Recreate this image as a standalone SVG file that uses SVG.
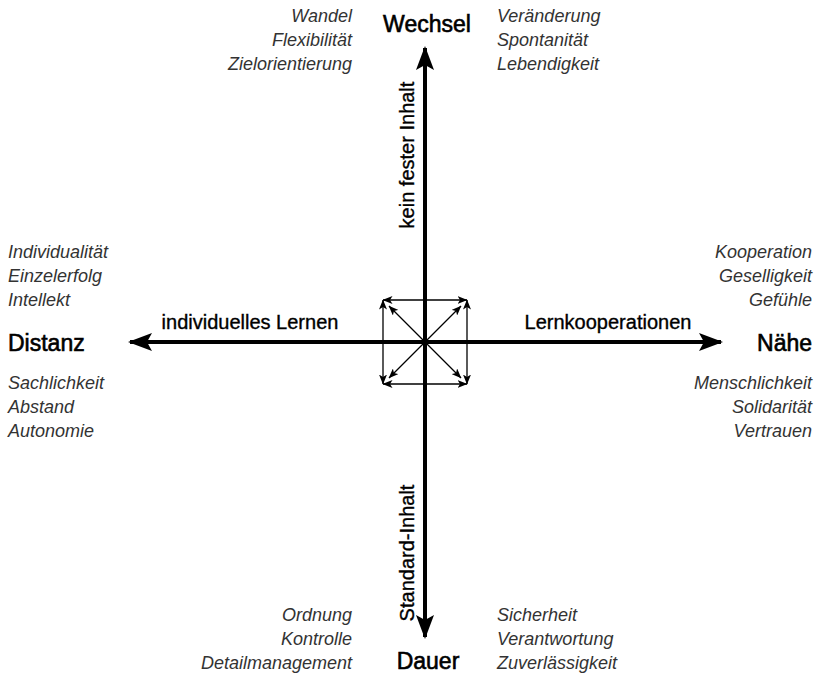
<svg xmlns="http://www.w3.org/2000/svg" width="815" height="676" viewBox="0 0 815 676">
  <style>
    .pole { font-family: "Liberation Sans", Arial, sans-serif; font-size: 23px; fill: #000; stroke: #000; stroke-width: 0.6; }
    .axis-label { font-family: "Liberation Sans", Arial, sans-serif; font-size: 20px; fill: #000; stroke: #000; stroke-width: 0.35; }
    .quality { font-family: "Liberation Sans", Arial, sans-serif; font-size: 18px; font-style: italic; fill: #333; }
    .axis { stroke: #000; stroke-width: 4; fill: none; }
    .thin { stroke: #000; stroke-width: 1.3; fill: none; }
  </style>
  <defs>
    <!-- big concave head for the two main axes -->
    <marker id="head-big" viewBox="0 0 24 18" refX="22" refY="9" markerWidth="24" markerHeight="18" markerUnits="userSpaceOnUse" orient="auto-start-reverse">
      <path d="M0,0 L24,9 L0,18 L5,9 Z" fill="#000"/>
    </marker>
    <!-- small head for the arrows in the centre square -->
    <marker id="head-small" viewBox="0 0 10 8" refX="9.5" refY="4" markerWidth="10" markerHeight="8" markerUnits="userSpaceOnUse" orient="auto-start-reverse">
      <path d="M0,0 L10,4 L0,8 L2.5,4 Z" fill="#000"/>
    </marker>
  </defs>

  <g id="connectors">
    <!-- main axes -->
    <line class="axis" x1="425" y1="637" x2="425" y2="48" marker-start="url(#head-big)" marker-end="url(#head-big)"/>
    <line class="axis" x1="130" y1="342" x2="721" y2="342" marker-start="url(#head-big)" marker-end="url(#head-big)"/>
    <!-- square of double-headed arrows -->
    <line class="thin" x1="383" y1="300" x2="467" y2="300" marker-start="url(#head-small)" marker-end="url(#head-small)"/>
    <line class="thin" x1="383" y1="384" x2="467" y2="384" marker-start="url(#head-small)" marker-end="url(#head-small)"/>
    <line class="thin" x1="383" y1="300" x2="383" y2="384" marker-start="url(#head-small)" marker-end="url(#head-small)"/>
    <line class="thin" x1="467" y1="300" x2="467" y2="384" marker-start="url(#head-small)" marker-end="url(#head-small)"/>
    <!-- diagonals from the centre -->
    <line class="thin" x1="425" y1="342" x2="389" y2="306" marker-end="url(#head-small)"/>
    <line class="thin" x1="425" y1="342" x2="461" y2="306" marker-end="url(#head-small)"/>
    <line class="thin" x1="425" y1="342" x2="389" y2="378" marker-end="url(#head-small)"/>
    <line class="thin" x1="425" y1="342" x2="461" y2="378" marker-end="url(#head-small)"/>
  </g>

  <g id="axis-labels">
    <text class="axis-label" x="250" y="329" text-anchor="middle">individuelles Lernen</text>
    <text class="axis-label" x="608" y="329" text-anchor="middle">Lernkooperationen</text>
    <text class="axis-label" transform="translate(414,155) rotate(-90)" text-anchor="middle">kein fester Inhalt</text>
    <text class="axis-label" transform="translate(414,553) rotate(-90)" text-anchor="middle">Standard-Inhalt</text>
  </g>

  <g id="node-wechsel">
    <text class="pole" x="427" y="32" text-anchor="middle">Wechsel</text>
    <text class="quality" x="352" y="22" text-anchor="end">Wandel</text>
    <text class="quality" x="352" y="46" text-anchor="end">Flexibilität</text>
    <text class="quality" x="352" y="70" text-anchor="end">Zielorientierung</text>
    <text class="quality" x="497" y="22">Veränderung</text>
    <text class="quality" x="497" y="46">Spontanität</text>
    <text class="quality" x="497" y="70">Lebendigkeit</text>
  </g>

  <g id="node-distanz">
    <text class="pole" x="8" y="351">Distanz</text>
    <text class="quality" x="8" y="258">Individualität</text>
    <text class="quality" x="8" y="282">Einzelerfolg</text>
    <text class="quality" x="8" y="306">Intellekt</text>
    <text class="quality" x="8" y="389">Sachlichkeit</text>
    <text class="quality" x="8" y="413">Abstand</text>
    <text class="quality" x="8" y="437">Autonomie</text>
  </g>

  <g id="node-naehe">
    <text class="pole" x="812" y="351" text-anchor="end">Nähe</text>
    <text class="quality" x="812" y="258" text-anchor="end">Kooperation</text>
    <text class="quality" x="812" y="282" text-anchor="end">Geselligkeit</text>
    <text class="quality" x="812" y="306" text-anchor="end">Gefühle</text>
    <text class="quality" x="812" y="389" text-anchor="end">Menschlichkeit</text>
    <text class="quality" x="812" y="413" text-anchor="end">Solidarität</text>
    <text class="quality" x="812" y="437" text-anchor="end">Vertrauen</text>
  </g>

  <g id="node-dauer">
    <text class="pole" x="428" y="669" text-anchor="middle">Dauer</text>
    <text class="quality" x="352" y="621" text-anchor="end">Ordnung</text>
    <text class="quality" x="352" y="645" text-anchor="end">Kontrolle</text>
    <text class="quality" x="352" y="669" text-anchor="end">Detailmanagement</text>
    <text class="quality" x="497" y="621">Sicherheit</text>
    <text class="quality" x="497" y="645">Verantwortung</text>
    <text class="quality" x="497" y="669">Zuverlässigkeit</text>
  </g>
</svg>
